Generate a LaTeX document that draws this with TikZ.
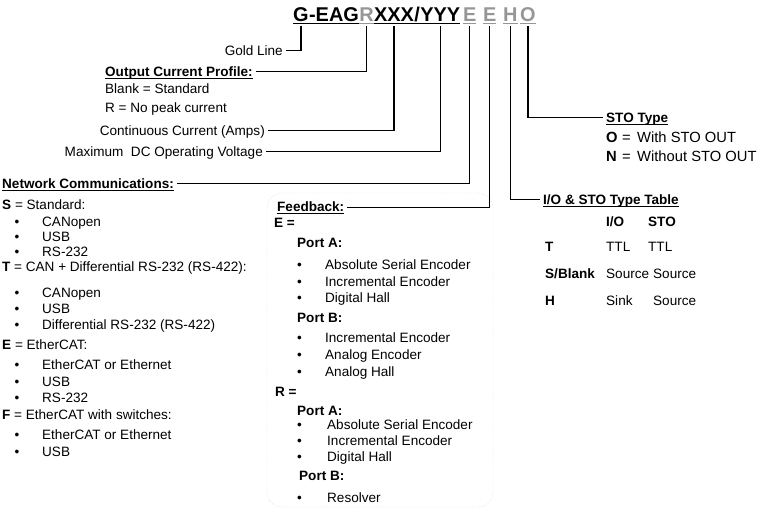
\documentclass[tikz,border=0pt]{standalone}
\usepackage{fontspec}
\setmainfont{Liberation Sans}
\usetikzlibrary{positioning}

\definecolor{codegrey}{RGB}{150,150,150}
\definecolor{boxgrey}{RGB}{205,205,205}

% underline with a rule of our own
\newcommand{\undl}[2][1bp]{\setbox0=\hbox{#2}\rlap{\rule[-2.5bp]{\wd0}{#1}}\box0}
\newcommand{\itm}[2][27.5bp]{\makebox[#1][l]{\textbullet}#2}

\tikzset{
  lbl/.style = {inner sep = 0pt, anchor = base west, text height = 9.7bp, text depth = 0pt,
                font = \fontsize{13.6}{16}\selectfont},
  hdr/.style = {lbl, font = \fontsize{13.6}{16}\selectfont\bfseries},
  code/.style = {inner sep = 0pt, anchor = base west, font = \fontsize{20}{24}\selectfont\bfseries},
  lead/.style = {line width = 1.2bp, shorten <= 3bp, shorten >= 1.5bp},
  fbbox/.style = {draw = boxgrey, densely dotted, rounded corners = 15bp}
}

\begin{document}
\begin{tikzpicture}[x = 1bp, y = -1bp]
    \useasboundingbox (0, 0) rectangle (760, 509);
    % part number
    \node[code] (code G) at (293, 22) {\undl[1.3bp]{G}};
    \node[code, base right = 0pt of code G] (code EAG) {\undl[1.3bp]{-EAG}};
    \node[code, base right = 0pt of code EAG, text = codegrey] (code R) {\undl[1.3bp]{R}};
    \node[code, base right = 0pt of code R] (code XXX) {\undl[1.3bp]{XXX}};
    \node[code, base right = 0pt of code XXX] (code slash) {\undl[1.3bp]{/}};
    \node[code, base right = 0pt of code slash] (code YYY) {\undl[1.3bp]{YYY}};
    \node[code, text = codegrey] (code E1) at (463, 22) {\undl[1.3bp]{E}};
    \node[code, text = codegrey] (code E2) at (483, 22) {\undl[1.3bp]{E}};
    \node[code, text = codegrey] (code H) at (503, 22) {\undl[1.3bp]{H}};
    \node[code, text = codegrey] (code O) at (520, 22) {\undl[1.3bp]{O}};

    % feedback box
    \draw[fbbox] (267, 193) rectangle (493, 507);

    % left labels
    \node[lbl, anchor = base east] (gold line) at (283, 55.5) {Gold Line};
    \node[hdr] (current profile) at (105, 76.5) {\undl{Output Current Profile:}};
    \node[lbl] (profile blank) at (105, 93.5) {Blank = Standard};
    \node[lbl] (profile r) at (105, 113) {R = No peak current};
    \node[lbl, anchor = base east] (continuous current) at (265, 135.5) {Continuous Current (Amps)};
    \node[lbl, anchor = base east] (max voltage) at (263, 156.5) {Maximum\ \ DC Operating Voltage};

    % network communications
    \node[hdr] (network) at (2, 188.5) {\undl{Network Communications:}};
    \node[lbl] (net S) at (2, 209.5) {\textbf{S} = Standard:};
    \node[lbl] (net S1) at (14.5, 226.5) {\itm{CANopen}};
    \node[lbl] (net S2) at (14.5, 241.5) {\itm{USB}};
    \node[lbl] (net S3) at (14.5, 256.5) {\itm{RS-232}};
    \node[lbl] (net T) at (2, 271.5) {\textbf{T} = CAN + Differential RS-232 (RS-422):};
    \node[lbl] (net T1) at (14.5, 297.5) {\itm{CANopen}};
    \node[lbl] (net T2) at (14.5, 313.5) {\itm{USB}};
    \node[lbl] (net T3) at (14.5, 329.5) {\itm{Differential RS-232 (RS-422)}};
    \node[lbl] (net E) at (2, 349.5) {\textbf{E} = EtherCAT:};
    \node[lbl] (net E1) at (14.5, 369.5) {\itm{EtherCAT or Ethernet}};
    \node[lbl] (net E2) at (14.5, 386.5) {\itm{USB}};
    \node[lbl] (net E3) at (14.5, 402.5) {\itm{RS-232}};
    \node[lbl] (net F) at (2, 419.5) {\textbf{F} = EtherCAT with switches:};
    \node[lbl] (net F1) at (14.5, 439.5) {\itm{EtherCAT or Ethernet}};
    \node[lbl] (net F2) at (14.5, 456.5) {\itm{USB}};

    % feedback
    \node[hdr] (feedback) at (277, 212) {\undl{Feedback:}};
    \node[hdr] (fb E) at (274, 227.5) {E =};
    \node[hdr] (fb E port A) at (297, 247.5) {Port A:};
    \node[lbl] (fb E A1) at (297, 269.5) {\itm[28bp]{Absolute Serial Encoder}};
    \node[lbl] (fb E A2) at (297, 286.5) {\itm[28bp]{Incremental Encoder}};
    \node[lbl] (fb E A3) at (297, 302.5) {\itm[28bp]{Digital Hall}};
    \node[hdr] (fb E port B) at (297, 322.5) {Port B:};
    \node[lbl] (fb E B1) at (297, 342.5) {\itm[28bp]{Incremental Encoder}};
    \node[lbl] (fb E B2) at (297, 359.5) {\itm[28bp]{Analog Encoder}};
    \node[lbl] (fb E B3) at (297, 376.5) {\itm[28bp]{Analog Hall}};
    \node[hdr] (fb R) at (275, 396.5) {R =};
    \node[hdr] (fb R port A) at (297, 415.5) {Port A:};
    \node[lbl] (fb R A1) at (297, 429.5) {\itm[30bp]{Absolute Serial Encoder}};
    \node[lbl] (fb R A2) at (297, 445.5) {\itm[30bp]{Incremental Encoder}};
    \node[lbl] (fb R A3) at (297, 461.5) {\itm[30bp]{Digital Hall}};
    \node[hdr] (fb R port B) at (299, 480.5) {Port B:};
    \node[lbl] (fb R B1) at (297, 502.5) {\itm[30bp]{Resolver}};

    % STO type
    \node[hdr] (sto type) at (606, 122.5) {\undl{STO Type}};
    \node[lbl, font = \fontsize{14.8}{17}\selectfont] (sto O) at (606, 142.5)
        {\makebox[16bp][l]{\textbf{O}}\makebox[15bp][l]{=}With STO OUT};
    \node[lbl, font = \fontsize{14.8}{17}\selectfont] (sto N) at (606, 161.5)
        {\makebox[16bp][l]{\textbf{N}}\makebox[15bp][l]{=}Without STO OUT};

    % I/O and STO table
    \node[hdr] (io table) at (543, 204.5) {\undl{I/O \& STO Type Table}};
    \node[hdr] (io head) at (606, 226.5) {\makebox[42bp][l]{I/O}STO};
    \node[lbl] (io T) at (545, 251.5) {\makebox[61bp][l]{\textbf{T}}\makebox[42bp][l]{TTL}TTL};
    \node[lbl] (io S) at (545, 278.5) {\makebox[61bp][l]{\textbf{S/Blank}}\makebox[47bp][l]{Source}Source};
    \node[lbl] (io H) at (545, 305.5) {\makebox[61bp][l]{\textbf{H}}\makebox[47bp][l]{Sink}Source};

    % leaders
    \draw[lead] (gold line.east) -| (code G.south);
    \draw[lead] (current profile.east) -| (code R.south);
    \draw[lead] (continuous current.east) -| (code XXX.south);
    \draw[lead] (max voltage.east) -| (code YYY.south);
    \draw[lead] (network.east) -| (code E1.south);
    \draw[lead] (feedback.east) -| (code E2.south);
    \draw[lead, shorten <= 1.5bp, shorten >= 3bp] (code H.south) |- (io table.west);
    \draw[lead, shorten <= 1.5bp, shorten >= 3bp] (code O.south) |- (sto type.west);
\end{tikzpicture}
\end{document}
